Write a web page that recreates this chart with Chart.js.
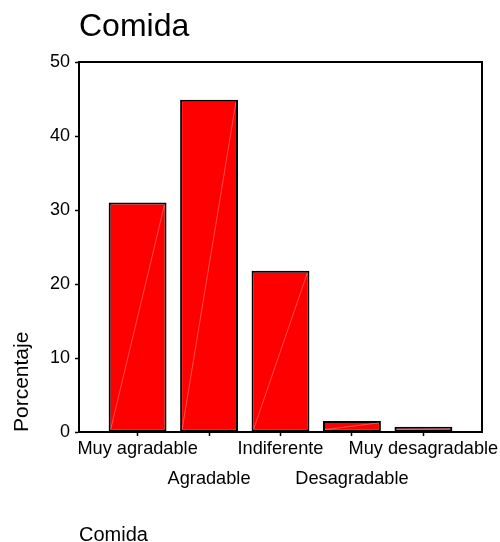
<!DOCTYPE html>
<html>
<head>
<meta charset="utf-8">
<script src="https://cdn.jsdelivr.net/npm/chart.js@4/dist/chart.umd.min.js"></script>
<style>
html,body{margin:0;padding:0;background:#fff;}
#wrap{width:500px;height:542px;position:relative;}
</style>
</head>
<body>
<div id="wrap"><canvas id="c" width="500" height="542"></canvas></div>
<script>
const categories = ['Muy agradable', 'Agradable', 'Indiferente', 'Desagradable', 'Muy desagradable'];
const percentages = [31.0, 44.9, 21.8, 1.5, 0.7];
const yTicks = [0, 10, 20, 30, 40, 50];

Chart.defaults.font.family = '"Liberation Sans", Arial, sans-serif';
Chart.defaults.color = '#000';

const framePlugin = {
  id: 'frame',
  beforeDatasetsDraw(chart) {
    const a = chart.chartArea, ctx = chart.ctx;
    ctx.save();
    ctx.strokeStyle = '#000';
    ctx.lineWidth = 2;
    ctx.beginPath();
    ctx.moveTo(a.left, a.top);
    ctx.lineTo(a.right, a.top);
    ctx.lineTo(a.right, a.bottom);
    ctx.stroke();
    ctx.restore();
  }
};

const diagPlugin = {
  id: 'diag',
  afterDatasetsDraw(chart) {
    const ctx = chart.ctx;
    const meta = chart.getDatasetMeta(0);
    ctx.save();
    ctx.strokeStyle = 'rgba(255,200,200,0.55)';
    ctx.lineWidth = 0.7;
    meta.data.forEach(el => {
      const p = el.getProps(['x', 'y', 'base', 'width'], true);
      const l = p.x - p.width / 2 + 2, r = p.x + p.width / 2 - 2;
      ctx.beginPath();
      ctx.moveTo(l, p.base - 2);
      ctx.lineTo(r, p.y + 2);
      ctx.stroke();
    });
    ctx.restore();
  }
};

new Chart(document.getElementById('c'), {
  type: 'bar',
  data: {
    datasets: [{
      data: categories.map((c, i) => ({ x: i, y: percentages[i] })),
      backgroundColor: '#FF0000',
      borderColor: '#000',
      borderWidth: 2,
      borderSkipped: false,
      barPercentage: 1.0,
      categoryPercentage: 0.81
    }]
  },
  options: {
    responsive: false,
    animation: false,
    layout: { padding: { left: 0, right: 18, top: 0, bottom: 0 } },
    plugins: {
      legend: { display: false },
      tooltip: { enabled: false },
      title: {
        display: true,
        text: 'Comida',
        align: 'start',
        fullSize: false,
        color: '#000',
        font: { size: 32, weight: 'normal', lineHeight: 1.2 },
        padding: { top: 8, bottom: 15.6 }
      }
    },
    scales: {
      x: {
        type: 'linear',
        min: -0.82,
        max: 4.82,
        offset: false,
        afterBuildTicks: s => { s.ticks = categories.map((c, i) => ({ value: i })); },
        ticks: {
          autoSkip: false,
          maxRotation: 0,
          minRotation: 0,
          includeBounds: false,
          color: '#000',
          font: { size: 18.2, lineHeight: 1.65 },
          padding: -2,
          callback: v => (v % 2 === 0 ? categories[v] : ['', categories[v]])
        },
        grid: { offset: false, drawOnChartArea: false, tickLength: 4, tickColor: '#000', tickWidth: 1.5 },
        border: { color: '#000', width: 2 },
        title: {
          display: true,
          text: 'Comida',
          align: 'start',
          color: '#000',
          font: { size: 20, lineHeight: 1.0 },
          padding: { top: 0, bottom: -3 }
        },
        afterFit: s => { s.height = 110; }
      },
      y: {
        min: 0,
        max: 50,
        afterBuildTicks: s => { s.ticks = yTicks.map(v => ({ value: v })); },
        ticks: { color: '#000', font: { size: 18 }, padding: 5 },
        grid: { drawOnChartArea: false, tickLength: 4, tickColor: '#000', tickWidth: 1.5 },
        border: { color: '#000', width: 2 },
        title: {
          display: true,
          text: 'Porcentaje',
          align: 'start',
          color: '#000',
          font: { size: 21 },
          padding: { top: 10, bottom: 0 }
        },
        afterFit: s => { s.width = 79; }
      }
    }
  },
  plugins: [framePlugin, diagPlugin]
});
</script>
</body>
</html>
